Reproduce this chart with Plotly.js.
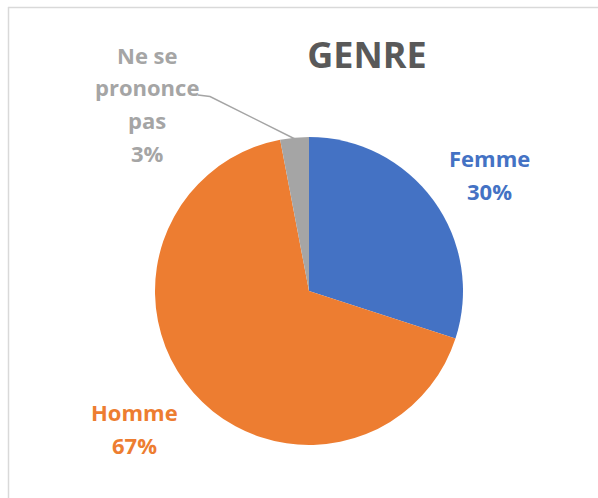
<!DOCTYPE html>
<html>
<head>
<meta charset="utf-8">
<script src="https://cdn.plot.ly/plotly-3.0.1.min.js"></script>
<style>
html,body{margin:0;padding:0;background:#fff;}
#chart{width:598px;height:498px;}
</style>
</head>
<body>
<div id="chart"></div>
<script>
const categories = ["Femme", "Homme", "Ne se prononce pas"];
const values = [30, 67, 3];
const colors = ["#4472C4", "#ED7D31", "#A5A5A5"];
const labelLines = [["Femme"], ["Homme"], ["Ne se", "prononce", "pas"]];
const chartTitle = "GENRE";

const W = 598, H = 498;
const px = x => x / W;
const py = y => 1 - y / H;

// pie geometry (pixels)
const cx = 309, cy = 291, r = 154;

// label anchor positions (pixel centers of first line) and line height
const labelPos = [[489, 158], [134, 412], [147, 55]];
const lineH = 32.5;

const total = values.reduce((a, b) => a + b, 0);
const annotations = [];
categories.forEach((c, i) => {
  const lines = labelLines[i].concat([Math.round(values[i] / total * 100) + "%"]);
  lines.forEach((t, k) => {
    annotations.push({
      text: "<b>" + t + "</b>",
      x: px(labelPos[i][0]), y: py(labelPos[i][1] + k * lineH),
      xref: "paper", yref: "paper", xanchor: "center", yanchor: "middle",
      showarrow: false,
      font: {family: "Open Sans, sans-serif", size: 22, color: colors[i]}
    });
  });
});

const data = [{
  type: "pie",
  labels: categories,
  values: values,
  sort: false,
  direction: "clockwise",
  rotation: 0,
  marker: {colors: colors, line: {width: 0}},
  textinfo: "none",
  hoverinfo: "label+percent",
  domain: {x: [px(cx - r), px(cx + r)], y: [py(cy + r), py(cy - r)]},
  showlegend: false
}];

const layout = {
  width: W, height: H,
  margin: {l: 0, r: 0, t: 0, b: 0},
  paper_bgcolor: "#ffffff",
  showlegend: false,
  title: {
    text: "<b>" + chartTitle + "</b>",
    x: px(367), xanchor: "center", xref: "paper",
    y: py(55), yanchor: "middle", yref: "paper",
    font: {family: "Open Sans, sans-serif", size: 36, color: "#595959"}
  },
  annotations: annotations,
  shapes: [
    {type: "line", xref: "paper", yref: "paper", x0: px(8), y0: py(7.5), x1: px(598), y1: py(7.5), line: {color: "#D9D9D9", width: 1.5}},
    {type: "line", xref: "paper", yref: "paper", x0: px(8.5), y0: py(7), x1: px(8.5), y1: py(498), line: {color: "#D9D9D9", width: 1.5}},
    {type: "path", xref: "paper", yref: "paper",
     path: "M " + px(198) + "," + py(95) + " L " + px(210) + "," + py(96.5) + " L " + px(295) + "," + py(139),
     line: {color: "#A5A5A5", width: 1.5}}
  ]
};

Plotly.newPlot("chart", data, layout, {displayModeBar: false, staticPlot: true});
</script>
</body>
</html>
